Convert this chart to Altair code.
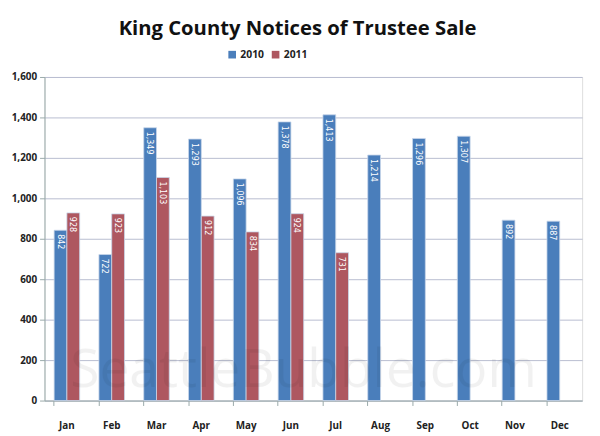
import altair as alt
import pandas as pd

months = ["Jan","Feb","Mar","Apr","May","Jun","Jul","Aug","Sep","Oct","Nov","Dec"]
v2010 = [842, 722, 1349, 1293, 1096, 1378, 1413, 1214, 1296, 1307, 892, 887]
v2011 = [928, 923, 1103, 912, 834, 924, 731]
y_ticks = [0, 200, 400, 600, 800, 1000, 1200, 1400, 1600]

rows = []
for m, v in zip(months, v2010):
    rows.append({"month": m, "year": "2010", "value": v})
for m, v in zip(months, v2011):
    rows.append({"month": m, "year": "2011", "value": v})
df = pd.DataFrame(rows)

W, H = 545, 328
color = alt.Color("year:N", scale=alt.Scale(domain=["2010", "2011"], range=["#4A7EBB", "#AE5760"]),
                  legend=alt.Legend(orient="none", legendX=185, legendY=-28, direction="horizontal",
                                    title=None, symbolType="square", symbolSize=60, symbolStrokeWidth=0,
                                    labelFont="Open Sans", labelFontWeight="bold", labelFontSize=10.5,
                                    labelColor="#222", columnPadding=6, labelOffset=3))

x = alt.X("month:N", sort=months, title=None,
          scale=alt.Scale(paddingInner=0.43, paddingOuter=0.215),
          axis=alt.Axis(labelAngle=0, labelFont="Open Sans", labelFontWeight="bold", labelFontSize=10,
                        labelColor="#222", labelPadding=15, tickSize=5, tickColor="#9AA",
                        domainColor="#9AA", ticks=True, bandPosition=0))
y = alt.Y("value:Q", title=None,
          scale=alt.Scale(domain=[0, 1600], nice=False),
          axis=alt.Axis(values=y_ticks, format=",d", labelFont="Open Sans", labelFontWeight="bold",
                        labelFontSize=10, labelColor="#222", tickSize=5, tickColor="#9AA",
                        domainColor="#9AA", gridColor="#B8BDD0", labelPadding=3))

base = alt.Chart(df).encode(x=x, xOffset=alt.XOffset("year:N", sort=["2010", "2011"]))

bars = base.mark_bar(stroke="#C9D6EA", strokeWidth=0.8).encode(y=y, color=color)

labels = base.mark_text(angle=90, align="left", baseline="middle", dx=4, color="white",
                        font="DejaVu Sans Condensed", fontSize=9).encode(
    y="value:Q", text=alt.Text("value:Q", format=",d"))

watermark = alt.Chart(pd.DataFrame({"t": ["SeattleBubble.com"]})).mark_text(
    font="Open Sans", fontSize=54, color="#000", opacity=0.05, align="center", baseline="middle"
).encode(text="t:N", x=alt.value(W/2 - 10), y=alt.value(H - 30))

chart = alt.layer(bars, labels, watermark).properties(
    width=W, height=H,
    title=alt.TitleParams("King County Notices of Trustee Sale", font="Open Sans", fontSize=20.5,
                          fontWeight="bold", color="#111", offset=10, dx=-16, anchor="middle"),
    autosize=alt.AutoSizeParams(type="none"),
    padding={"left": 37, "top": 67, "right": 10, "bottom": 33},
).configure_view(stroke=None).configure(background="white")

chart.save("out.html", embed_options={"renderer": "svg", "actions": False})
